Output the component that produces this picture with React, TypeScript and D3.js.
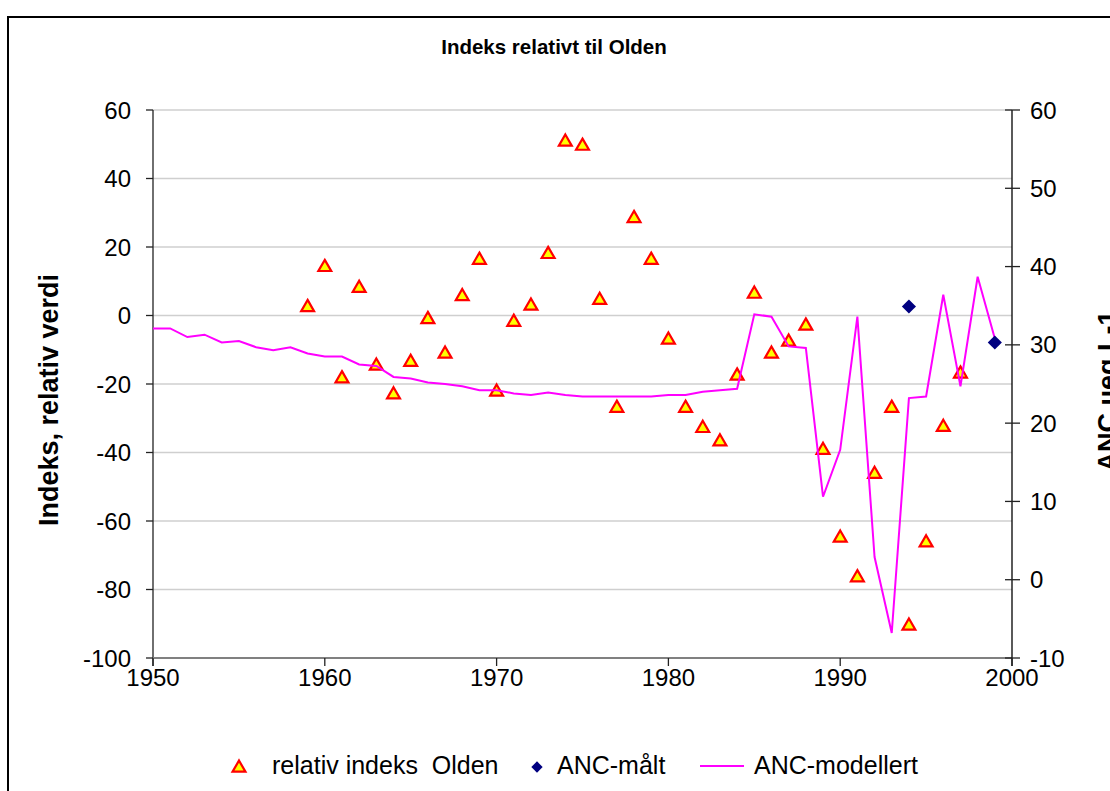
import React from "react"
import * as d3 from "d3"

// relativ indeks Olden (left axis)
const indeksYears = [
  1959, 1960, 1961, 1962, 1963, 1964, 1965, 1966, 1967, 1968,
  1969, 1970, 1971, 1972, 1973, 1974, 1975, 1976, 1977, 1978,
  1979, 1980, 1981, 1982, 1983, 1984, 1985, 1986, 1987, 1988,
  1989, 1990, 1991, 1992, 1993, 1994, 1995, 1996, 1997,
]
const indeksValues = [
  2.9, 14.6, -17.9, 8.5, -14.2, -22.6, -13.1, -0.6, -10.7, 6.1,
  16.7, -21.8, -1.4, 3.3, 18.4, 51.2, 50.0, 5.0, -26.5, 28.9,
  16.7, -6.6, -26.5, -32.4, -36.3, -17.1, 6.8, -10.7, -7.2, -2.5,
  -38.8, -64.4, -76.0, -45.8, -26.5, -90.1, -65.8, -32.1, -16.5,
]

// ANC-modellert (right axis)
const ancModelYears = d3.range(1950, 2000)
const ancModelValues = [
  32.1, 32.1, 31.0, 31.3, 30.3, 30.5, 29.7, 29.3, 29.7, 28.9,
  28.5, 28.5, 27.5, 27.3, 25.9, 25.7, 25.2, 25.0, 24.7, 24.2,
  24.2, 23.8, 23.6, 23.9, 23.6, 23.4, 23.4, 23.4, 23.4, 23.4,
  23.6, 23.6, 24.0, 24.2, 24.4, 33.9, 33.6, 29.8, 29.6, 10.6,
  16.6, 33.6, 2.9, -6.8, 23.2, 23.4, 36.4, 24.7, 38.7, 30.8,
]

// ANC-målt (right axis)
const ancMeasuredYears = [1994, 1999]
const ancMeasuredValues = [34.9, 30.3]

const xTicks = [1950, 1960, 1970, 1980, 1990, 2000]
const leftTicks = [60, 40, 20, 0, -20, -40, -60, -80, -100]
const rightTicks = [60, 50, 40, 30, 20, 10, 0, -10]

const FONT = "'Liberation Sans', Arial, sans-serif"

export default function App() {
  const x = d3.scaleLinear().domain([1950, 2000]).range([153, 1012])
  const yL = d3.scaleLinear().domain([-100, 60]).range([658, 110])
  const yR = d3.scaleLinear().domain([-10, 60]).range([658, 110])

  const triangle = d3.symbol().type(d3.symbolTriangle).size(72)()
  const diamond = d3.symbol().type(d3.symbolSquare).size(100)()

  const modelLine = d3
    .line<number>()
    .x((_, i) => x(ancModelYears[i]))
    .y((d) => yR(d))(ancModelValues)

  const [left, right] = x.range()
  const [bottom, top] = yL.range()

  return (
    <svg
      width={1110}
      height={791}
      style={{ position: "absolute", left: 0, top: 0, background: "#fff" }}
      fontFamily={FONT}
    >
      <rect x={8} y={17} width={1200} height={900} fill="#fff" stroke="#000" strokeWidth={2} />

      <text x={554} y={54} textAnchor="middle" fontSize={20.5} fontWeight="bold">
        Indeks relativt til Olden
      </text>

      {/* gridlines */}
      {leftTicks.slice(0, -1).map((t) => (
        <line key={t} x1={left} x2={right} y1={yL(t)} y2={yL(t)} stroke="#cfcfcf" strokeWidth={1.5} />
      ))}

      {/* axes */}
      <line x1={left} x2={left} y1={top} y2={bottom + 8} stroke="#222" strokeWidth={1.3} />
      <line x1={left} x2={right} y1={bottom} y2={bottom} stroke="#808080" strokeWidth={2} />
      <line x1={right} x2={right} y1={top} y2={bottom + 8} stroke="#000" strokeWidth={1.3} />

      {leftTicks.map((t) => (
        <g key={t}>
          <line x1={left - 7} x2={left} y1={yL(t)} y2={yL(t)} stroke="#222" strokeWidth={1.3} />
          <text x={131} y={yL(t)} dy="0.36em" textAnchor="end" fontSize={24}>
            {t}
          </text>
        </g>
      ))}
      {rightTicks.map((t) => (
        <g key={t}>
          <line x1={right - 7} x2={right + 8} y1={yR(t)} y2={yR(t)} stroke="#222" strokeWidth={1.3} />
          <text x={1030} y={yR(t)} dy="0.36em" fontSize={24}>
            {t}
          </text>
        </g>
      ))}
      {xTicks.map((t) => (
        <g key={t}>
          <line x1={x(t)} x2={x(t)} y1={bottom} y2={bottom + 8} stroke="#222" strokeWidth={1.3} />
          <text x={x(t)} y={686} textAnchor="middle" fontSize={24}>
            {t}
          </text>
        </g>
      ))}

      <text transform="translate(58,400) rotate(-90)" textAnchor="middle" fontSize={27} fontWeight="bold">
        Indeks, relativ verdi
      </text>
      <text transform="translate(1117,391) rotate(-90)" textAnchor="middle" fontSize={27} fontWeight="bold">
        ANC µeq L-1
      </text>

      {/* series */}
      {indeksValues.map((v, i) => (
        <path
          key={indeksYears[i]}
          d={triangle!}
          transform={`translate(${x(indeksYears[i])},${yL(v) + 1.8})`}
          fill="#ffff00"
          stroke="#ff0000"
          strokeWidth={2.2}
        />
      ))}
      <path d={modelLine!} fill="none" stroke="#ff00ff" strokeWidth={2} strokeLinejoin="miter" />
      {ancMeasuredValues.map((v, i) => (
        <path
          key={ancMeasuredYears[i]}
          d={diamond!}
          transform={`translate(${x(ancMeasuredYears[i])},${yR(v)}) rotate(45)`}
          fill="#000080"
        />
      ))}

      {/* legend */}
      <path d={triangle!} transform="translate(239,768)" fill="#ffff00" stroke="#ff0000" strokeWidth={2.2} />
      <text x={272} y={774} fontSize={25} style={{ whiteSpace: "pre" }}>
        {"relativ indeks  Olden"}
      </text>
      <path d={diamond!} transform="translate(537,767) rotate(45) scale(0.8)" fill="#000080" />
      <text x={557} y={774} fontSize={25}>
        ANC-målt
      </text>
      <line x1={700} x2={744} y1={766} y2={766} stroke="#ff00ff" strokeWidth={2} />
      <text x={754} y={774} fontSize={25}>
        ANC-modellert
      </text>
    </svg>
  )
}
